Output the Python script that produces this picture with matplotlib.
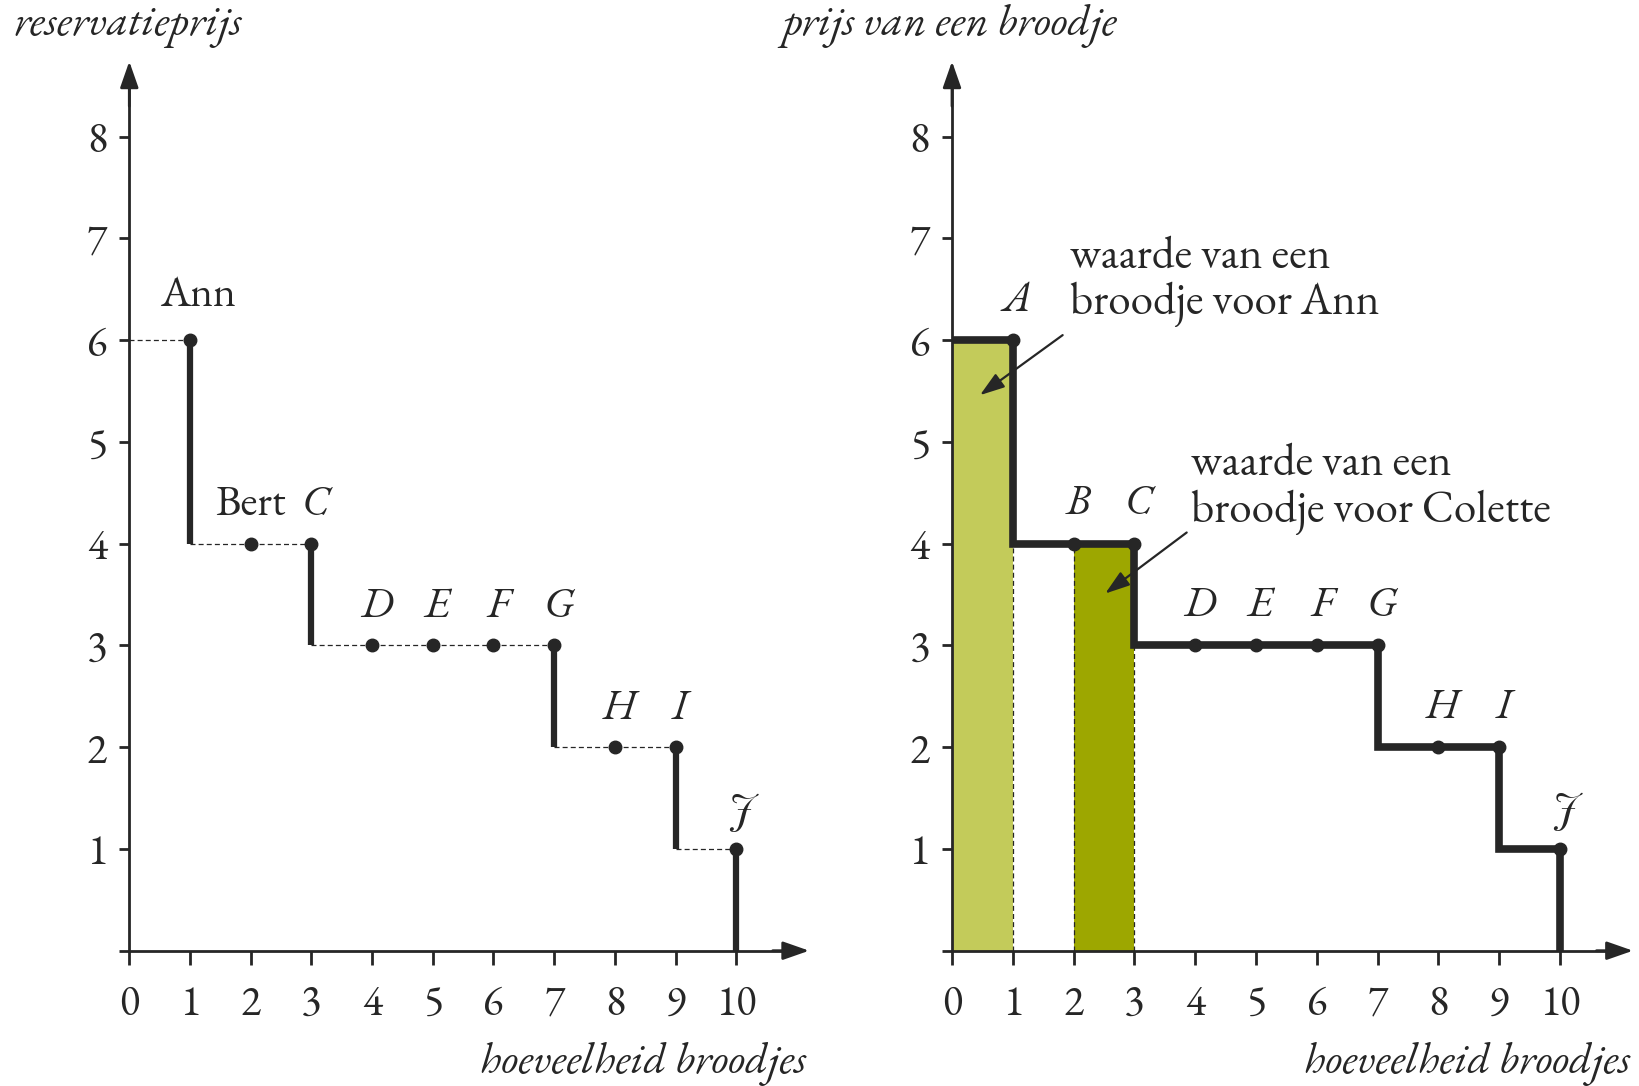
import matplotlib
matplotlib.use("Agg")
import matplotlib.pyplot as plt
from matplotlib import font_manager as fm
import numpy as np

# ---- data ----
quantity = [1, 2, 3, 4, 5, 6, 7, 8, 9, 10]
reservation = [6, 4, 4, 3, 3, 3, 3, 2, 2, 1]
left_labels = ["Ann", "Bert", "C", "D", "E", "F", "G", "H", "I", "J"]
left_italic = [False, False, True, True, True, True, True, True, True, True]
right_labels = ["A", "B", "C", "D", "E", "F", "G", "H", "I", "J"]
x_ticks = [0, 1, 2, 3, 4, 5, 6, 7, 8, 9, 10]
y_ticks = [0, 1, 2, 3, 4, 5, 6, 7, 8]
y_ticklabels = ["", "1", "2", "3", "4", "5", "6", "7", "8"]
left_ylabel = "reservatieprijs"
right_ylabel = "prijs van een broodje"
xlabel = "hoeveelheid broodjes"
ann_text = "waarde van een\nbroodje voor Ann"
colette_text = "waarde van een\nbroodje voor Colette"
ann_index = 0
colette_index = 2

DARK = "#262626"
LIGHT_GREEN = "#C3CB5A"
OLIVE = "#9DA700"

available = {f.name for f in fm.fontManager.ttflist}
FONT = "DejaVu Serif"
for cand in ["EB Garamond", "Cormorant Garamond", "Liberation Serif"]:
    if cand in available:
        FONT = cand
        break
SWASH = "Playfair Display" if "Playfair Display" in available else FONT
plt.rcParams["font.family"] = FONT

GARAMOND = "Garamond" in FONT
S = 1.08 if GARAMOND else 1.0
FS_TICK = 28 * S
FS_LAB = 29 * S
FS_TITLE = 29.4 * S
FS_ANN = 30 * S

fig = plt.figure(figsize=(16.4, 10.86), dpi=100)
W, H = 1640, 1086
XLIM = (-2.1, 11.3)
YLIM = (-1.3, 9.3)


def make_axes(x0_px, unit_x):
    y0_px, unit_y = 950.7, 101.75
    left = x0_px + XLIM[0] * unit_x
    right = x0_px + XLIM[1] * unit_x
    top = y0_px - YLIM[1] * unit_y
    bottom = y0_px - YLIM[0] * unit_y
    ax = fig.add_axes([left / W, (H - bottom) / H, (right - left) / W, (bottom - top) / H])
    ax.set_xlim(*XLIM)
    ax.set_ylim(*YLIM)
    ax.patch.set_alpha(0)
    for s in ["top", "right"]:
        ax.spines[s].set_visible(False)
    for s in ["left", "bottom"]:
        ax.spines[s].set_position(("data", 0))
        ax.spines[s].set_linewidth(2.0)
        ax.spines[s].set_color(DARK)
    ax.spines["bottom"].set_bounds(0, 11.0)
    ax.spines["left"].set_bounds(0, 8.5)
    ax.set_xticks(x_ticks)
    ax.set_xticklabels([str(t) for t in x_ticks])
    ax.set_yticks(y_ticks)
    ax.set_yticklabels(y_ticklabels)
    ax.tick_params(axis="x", direction="out", length=10, width=2.0, color=DARK,
                   labelsize=FS_TICK, pad=14, labelcolor=DARK)
    ax.tick_params(axis="y", direction="out", length=7, width=2.0, color=DARK,
                   labelsize=FS_TICK, pad=9, labelcolor=DARK)
    ax.annotate("", xy=(11.2, 0), xytext=(10.6, 0),
                arrowprops=dict(arrowstyle="-|>,head_length=0.8,head_width=0.28",
                                mutation_scale=20, color=DARK, lw=2.0,
                                shrinkA=0, shrinkB=0), annotation_clip=False)
    ax.annotate("", xy=(0, 8.74), xytext=(0, 8.3),
                arrowprops=dict(arrowstyle="-|>,head_length=0.8,head_width=0.28",
                                mutation_scale=20, color=DARK, lw=2.0,
                                shrinkA=0, shrinkB=0), annotation_clip=False)
    ax.text(11.15, -1.11, xlabel, ha="right", va="center", style="italic",
            fontsize=FS_TITLE, color=DARK, clip_on=False)
    return ax


def point_label(ax, x, y, lab, italic):
    fam = SWASH if lab == "J" else FONT
    fs = FS_LAB * (0.95 if lab == "J" and SWASH != FONT else 1.0)
    ax.text(x, y, lab, ha="center", va="center", fontsize=fs, family=fam,
            style="italic" if italic else "normal", color=DARK)


axL = make_axes(129.3, 60.7)
axR = make_axes(952.0, 60.8)

# ---- left panel ----
q = np.array(quantity)
p = np.array(reservation)
p_next = np.r_[p[1:], 0]
for qi, pi, pn in zip(q, p, p_next):
    axL.plot([qi - 1, qi], [pi, pi], color=DARK, lw=0.9, ls=(0, (4, 2.5)), zorder=2)
    if pn < pi:
        axL.plot([qi, qi], [pi, pn], color=DARK, lw=4.5, solid_capstyle="butt", zorder=3)
axL.plot(q, p, "o", color=DARK, ms=9, zorder=4)
for qi, pi, lab, it in zip(q, p, left_labels, left_italic):
    dx = 0.07 if it else 0.0
    dy = 0.37
    if lab == "Ann":
        dx, dy = 0.13, 0.43
    point_label(axL, qi + dx, pi + dy, lab, it)
axL.text(-0.03, 9.09, left_ylabel, ha="center", va="center", style="italic",
         fontsize=FS_TITLE, color=DARK, clip_on=False)

# ---- right panel ----
axR.bar([quantity[ann_index] - 1], [reservation[ann_index]], width=1, align="edge",
        color=LIGHT_GREEN, zorder=1, linewidth=0)
axR.bar([quantity[colette_index] - 1], [reservation[colette_index]], width=1, align="edge",
        color=OLIVE, zorder=1, linewidth=0)
axR.plot([quantity[ann_index]] * 2, [0, reservation[ann_index + 1]], color=DARK, lw=0.9,
         ls=(0, (4, 2.5)), zorder=2)
axR.plot([quantity[colette_index] - 1] * 2, [0, reservation[colette_index]], color=DARK,
         lw=0.9, ls=(0, (4, 2.5)), zorder=2)
axR.plot([quantity[colette_index]] * 2, [0, reservation[colette_index + 1]], color=DARK,
         lw=0.9, ls=(0, (4, 2.5)), zorder=2)

xs = np.r_[0, q, q[-1]]
ys = np.r_[p[0], p, 0]
axR.step(xs, ys, where="pre", color=DARK, lw=5.5, solid_joinstyle="miter",
         solid_capstyle="butt", zorder=3)
axR.plot(q, p, "o", color=DARK, ms=9, zorder=4)
for qi, pi, lab in zip(q, p, right_labels):
    point_label(axR, qi + 0.07, pi + 0.38, lab, True)
axR.text(-0.03, 9.09, right_ylabel, ha="center", va="center", style="italic",
         fontsize=FS_TITLE, color=DARK, clip_on=False)

arrow_kw = dict(arrowstyle="-|>,head_length=0.75,head_width=0.25", mutation_scale=20,
                color=DARK, lw=1.6, shrinkA=0, shrinkB=0)
axR.annotate("", xy=(0.46, 5.46), xytext=(1.82, 6.05), arrowprops=arrow_kw, zorder=5)
axR.text(1.94, 6.58, ann_text, ha="left", va="center", fontsize=FS_ANN, color=DARK,
         linespacing=1.05)
axR.annotate("", xy=(2.52, 3.51), xytext=(3.86, 4.11), arrowprops=arrow_kw, zorder=5)
axR.text(3.93, 4.54, colette_text, ha="left", va="center", fontsize=FS_ANN, color=DARK,
         linespacing=1.05)

fig.savefig("out.png", dpi=100)
